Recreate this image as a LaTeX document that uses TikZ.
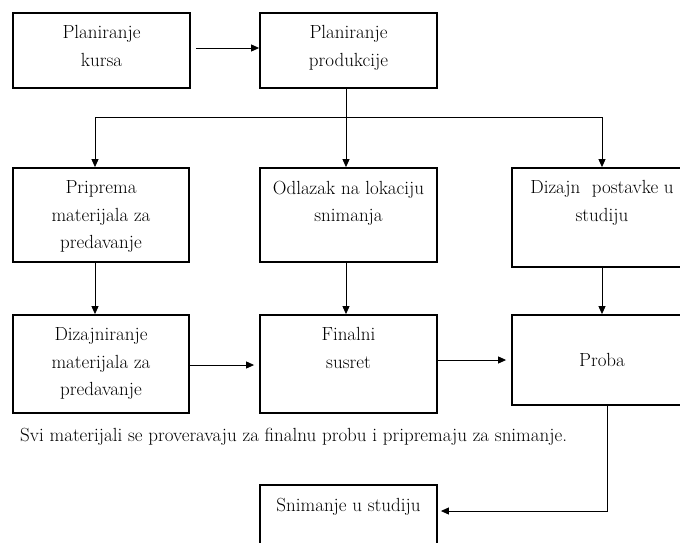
\documentclass[tikz,border=0pt]{standalone}
\usepackage{tikz}
\usetikzlibrary{arrows.meta,calc}
\tikzset{
  okvir/.style={draw, line width=1.8pt, inner sep=0pt},
  tekst/.style={align=center, font=\fontsize{19}{27.5}\selectfont, inner sep=0pt},
  gore/.style={label={[tekst, anchor=north, yshift=-13.5pt]north:#1}},
  veza/.style={line width=0.9pt, -{Triangle[length=8pt,width=7pt]}},
  linija/.style={line width=0.9pt},
}

\begin{document}
\begin{tikzpicture}[x=1pt,y=-1pt]
	\clip (0,0) rectangle (680,542); %边界
	% 第一行
	\node[okvir, minimum width=177pt, minimum height=75pt, gore={Planiranje\\kursa}] (kurs) at (101.5,50.5) {};
	\node[okvir, minimum width=177pt, minimum height=75pt, gore={Planiranje\\produkcije}] (produkcija) at (348.5,50.5) {};
	% 第二行
	\node[okvir, minimum width=176pt, minimum height=94pt, gore={Priprema\\materijala za\\predavanje}] (priprema) at (101,215) {};
	\node[okvir, minimum width=177pt, minimum height=94pt, gore={Odlazak na lokaciju\\snimanja}] (odlazak) at (348.5,215) {};
	\node[okvir, minimum width=180pt, minimum height=99pt, gore={Dizajn\ \ postavke u\\studiju}] (dizajn) at (602,217.5) {};
	% 第三行
	\node[okvir, minimum width=176pt, minimum height=98pt, gore={Dizajniranje\\materijala za\\predavanje}] (dizajniranje) at (101,364) {};
	\node[okvir, minimum width=177pt, minimum height=98pt, gore={Finalni\\susret}] (finalni) at (348.5,364) {};
	\node[okvir, tekst, minimum width=180pt, minimum height=90pt] (proba) at (602,360) {Proba};
	% 说明文字
	\node[tekst, anchor=base west] (napomena) at (20,441) {Svi materijali se proveravaju za finalnu probu i pripremaju za snimanje.};
	% 最后一行
	\node[okvir, minimum width=177pt, minimum height=80pt, gore={Snimanje u studiju}] (snimanje) at (348.5,525) {};
	% 连线
	\coordinate (grana) at (346,117); %分支点
	\coordinate (skret) at (607,511); %拐点
	\draw[veza, shorten <=5pt] ([yshift=2.5pt]kurs.east) -- ([yshift=2.5pt]produkcija.west);
	\draw[linija] (produkcija.south -| grana) -- (grana);
	\draw[veza] (grana) -| ([xshift=-6pt]priprema.north);
	\draw[veza] (grana) -- (grana |- odlazak.north);
	\draw[veza] (grana) -| (dizajn.north);
	\draw[veza] ([xshift=-6pt]priprema.south) -- ([xshift=-6pt]dizajniranje.north);
	\draw[veza] (odlazak.south -| grana) -- (finalni.north -| grana);
	\draw[veza] (dizajn.south) -- (proba.north);
	\draw[veza, shorten >=5pt] ([yshift=-1pt]dizajniranje.east) -- ([yshift=-1pt]finalni.west);
	\draw[veza, shorten >=5pt] ([yshift=4pt]finalni.east) -- ([yshift=4pt]finalni.east -| proba.west);
	\draw[veza, shorten >=3pt] (proba.south -| skret) -- (skret) -- (skret -| snimanje.east);
\end{tikzpicture}
\end{document}
